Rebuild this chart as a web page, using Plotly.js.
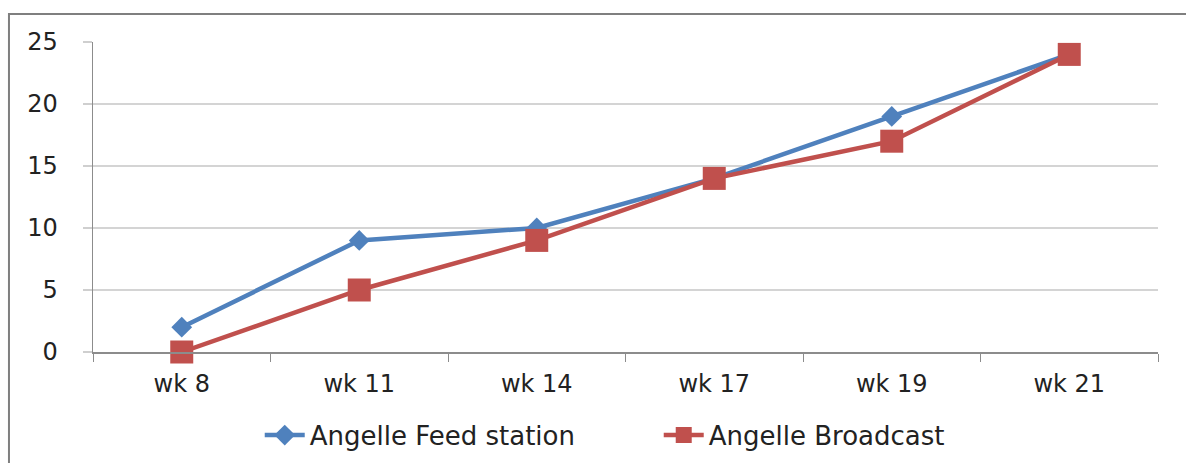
<!DOCTYPE html>
<html>
<head>
<meta charset="utf-8">
<script src="https://cdn.plot.ly/plotly-3.0.1.min.js"></script>
<style>
html,body{margin:0;padding:0;background:#fff;}
#chart{width:1186px;height:463px;}
</style>
</head>
<body>
<div id="chart"></div>
<script>
const categories = ["wk 8", "wk 11", "wk 14", "wk 17", "wk 19", "wk 21"];
const feedStation = [2, 9, 10, 14, 19, 24];
const broadcast = [0, 5, 9, 14, 17, 24];
const yTicks = [0, 5, 10, 15, 20, 25];

const traces = [
  {
    x: categories, y: feedStation, name: "Angelle Feed station",
    type: "scatter", mode: "lines+markers", cliponaxis: false,
    line: {color: "#4F81BD", width: 4.5},
    marker: {symbol: "diamond", size: 16, color: "#4F81BD"}
  },
  {
    x: categories, y: broadcast, name: "Angelle Broadcast",
    type: "scatter", mode: "lines+markers", cliponaxis: false,
    line: {color: "#C0504D", width: 4.5},
    marker: {symbol: "square", size: 23, color: "#C0504D"}
  }
];

const layout = {
  width: 1186, height: 463,
  margin: {l: 93, r: 28, t: 42, b: 111, autoexpand: false},
  paper_bgcolor: "#fff", plot_bgcolor: "#fff",
  font: {family: "DejaVu Sans, Arial, sans-serif", size: 24, color: "#222"},
  showlegend: true,
  legend: {
    orientation: "h", xref: "container", yref: "container",
    x: 0.219, xanchor: "left", y: 0.06, yanchor: "middle",
    font: {size: 26, color: "#222"}, itemwidth: 40, traceorder: "normal",
    entrywidth: 344, entrywidthmode: "pixels"
  },
  xaxis: {
    type: "category", categoryarray: categories,
    showline: true, linecolor: "#8c8c8c", linewidth: 1.5,
    ticks: "outside", tickson: "boundaries", ticklen: 8, tickcolor: "#8c8c8c",
    showgrid: false, zeroline: false,
    tickfont: {size: 24}, ticklabelstandoff: 10, range: [-0.5, 5.5]
  },
  yaxis: {
    range: [0, 25], tickvals: yTicks, ticktext: yTicks.map(String),
    showline: true, linecolor: "#8c8c8c", linewidth: 1.5,
    ticks: "outside", ticklen: 9, tickcolor: "#cfcfcf", tickwidth: 2,
    showgrid: true, gridcolor: "#d4d4d4", gridwidth: 2,
    zeroline: false, tickfont: {size: 24}, ticklabelstandoff: 20
  },
  shapes: [{
    type: "rect", xref: "paper", yref: "paper",
    x0: -0.0789, x1: 1.05, y0: -0.5, y1: 1.0903,
    line: {color: "#7f7f7f", width: 2}, fillcolor: "rgba(0,0,0,0)", layer: "below"
  }]
};

Plotly.newPlot("chart", traces, layout, {displayModeBar: false, staticPlot: true});
</script>
</body>
</html>
